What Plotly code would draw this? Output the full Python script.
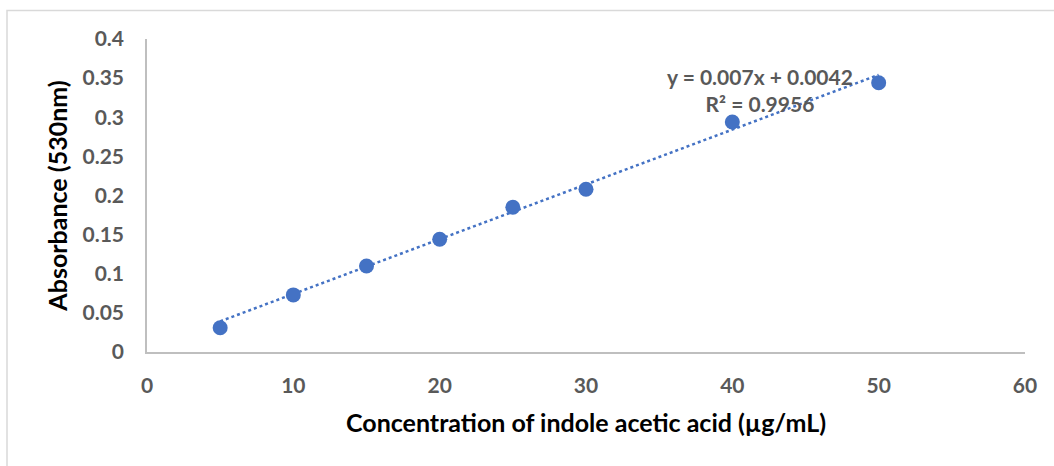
import plotly.graph_objects as go

concentration = [5, 10, 15, 20, 25, 30, 40, 50]
absorbance = [0.031, 0.073, 0.110, 0.144, 0.185, 0.208, 0.294, 0.344]
slope = 0.007
intercept = 0.0042
r2 = 0.9956
x_ticks = [0, 10, 20, 30, 40, 50, 60]
y_ticks = [0, 0.05, 0.1, 0.15, 0.2, 0.25, 0.3, 0.35, 0.4]
y_tick_text = ["0", "0.05", "0.1", "0.15", "0.2", "0.25", "0.3", "0.35", "0.4"]

W, H = 1054, 466
L, R, T, B = 147, 29, 39, 114
FONT = "Lato"
BLUE = "#4472C4"
GRAY = "#595959"

trend_x = [min(concentration), max(concentration)]
trend_y = [slope * v + intercept for v in trend_x]

fig = go.Figure()
fig.add_trace(go.Scatter(x=trend_x, y=trend_y, mode="lines",
                         line=dict(color=BLUE, width=2.5, dash="dot"),
                         showlegend=False, hoverinfo="skip"))
fig.add_trace(go.Scatter(x=concentration, y=absorbance, mode="markers",
                         marker=dict(color=BLUE, size=15),
                         showlegend=False))

fig.add_annotation(x=41.9, y=0.335, xref="x", yref="y",
                   text=f"y = {slope}x + {intercept}<br>R² = {r2}",
                   showarrow=False, align="center",
                   font=dict(family=FONT, size=21, color=GRAY, weight="bold"),
                   xanchor="center", yanchor="middle")

pw = W - L - R
ph = H - T - B
fig.add_shape(type="rect", xref="paper", yref="paper",
              x0=(7 - L) / pw, x1=(W + 10 - L) / pw,
              y0=(H - B - (H + 10)) / ph, y1=(H - B - 10.5) / ph,
              line=dict(color="#D9D9D9", width=1.5), layer="below")

fig.update_layout(
    width=W, height=H,
    margin=dict(l=L, r=R, t=T, b=B),
    paper_bgcolor="white", plot_bgcolor="white",
    font=dict(family=FONT),
    xaxis=dict(range=[0, 60], tickvals=x_ticks, showgrid=False, zeroline=False,
               showline=True, linecolor="#BFBFBF", linewidth=1.5,
               ticks="", ticklabelstandoff=14,
               tickfont=dict(family=FONT, size=21, color=GRAY, weight="bold"),
               title=dict(text="Concentration of indole acetic acid (µg/mL)",
                          font=dict(family=FONT, size=25, color="black", weight="bold"),
                          standoff=19)),
    yaxis=dict(range=[0, 0.4], tickvals=y_ticks, ticktext=y_tick_text,
               showgrid=False, zeroline=False,
               showline=True, linecolor="#BFBFBF", linewidth=1.5,
               ticks="", ticklabelstandoff=17,
               tickfont=dict(family=FONT, size=21, color=GRAY, weight="bold"),
               title=dict(text="Absorbance (530nm)",
                          font=dict(family=FONT, size=25, color="black", weight="bold"),
                          standoff=8)),
)

fig.write_html("out.html")
